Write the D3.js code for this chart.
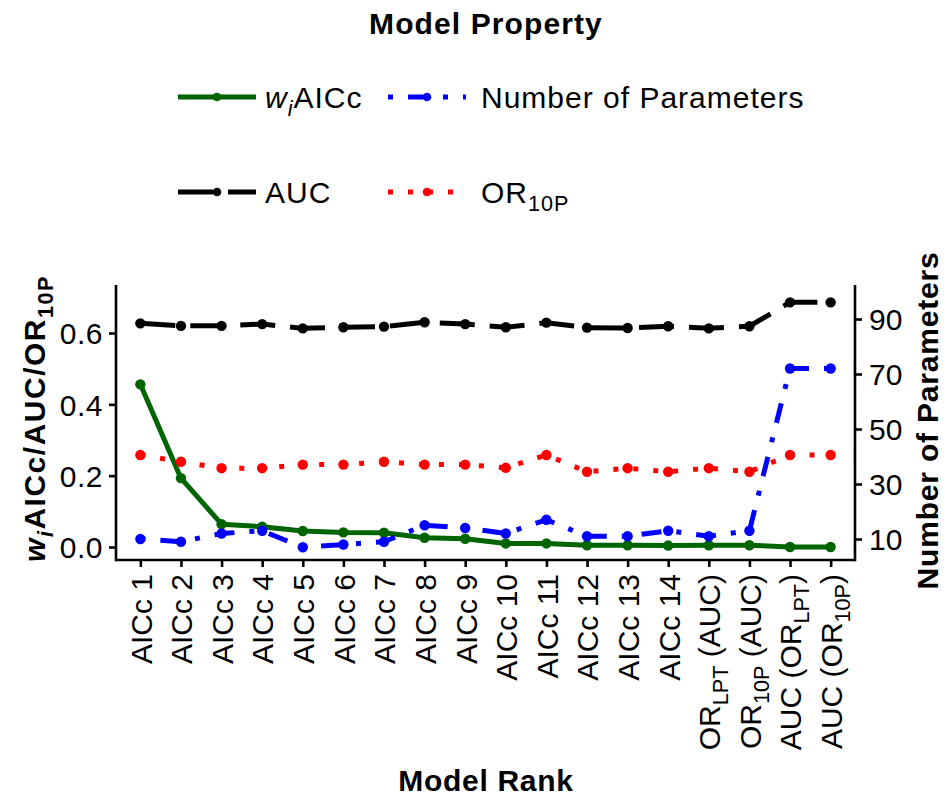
<!DOCTYPE html>
<html><head><meta charset="utf-8">
<script src="https://cdn.jsdelivr.net/npm/d3@7"></script>
<style>
body{margin:0;background:#fff}
svg text{font-family:"Liberation Sans",Arial,Helvetica,sans-serif;fill:#000}
</style>
</head><body>
<svg id="c" width="945" height="797"></svg>
<script>
// ---------- data ----------
const categories = ["AICc 1","AICc 2","AICc 3","AICc 4","AICc 5","AICc 6","AICc 7","AICc 8","AICc 9",
  "AICc 10","AICc 11","AICc 12","AICc 13","AICc 14",
  "OR_{LPT} (AUC)","OR_{10P} (AUC)","AUC (OR_{LPT})","AUC (OR_{10P})"];
const wAICc  = [0.456,0.193,0.064,0.057,0.045,0.041,0.040,0.026,0.023,0.010,0.010,0.005,0.005,0.004,0.005,0.005,0.000,0.000];
const aucVals = [0.627,0.620,0.620,0.625,0.613,0.616,0.618,0.630,0.625,0.616,0.629,0.615,0.614,0.619,0.613,0.619,0.686,0.686];
const or10p  = [0.258,0.239,0.221,0.221,0.231,0.231,0.239,0.231,0.231,0.222,0.258,0.211,0.221,0.211,0.221,0.211,0.258,0.258];
const nParams = [10,9,12,13,7,8,9,15,14,12,17,11,11,13,11,13,72,72];
const leftTicks = [0.0,0.2,0.4,0.6];
const rightTicks = [10,30,50,70,90];

// ---------- layout ----------
const svg = d3.select("#c");
const P = {left:116, right:855, top:285, bottom:560};
const FS = 30;
const x = d3.scalePoint().domain(categories).range([P.left, P.right]).padding(0.6);
const yL = d3.scaleLinear().domain([0,0.6]).range([547,333]);
const yR = d3.scaleLinear().domain([10,90]).range([539,319]);

// helper: write text with _{sub} markup into a text selection
function richText(sel, str, subShift, subScale){
  const parts = str.split(/(_\{[^}]*\})/).filter(s=>s.length);
  let pendingDy = 0;
  parts.forEach(p=>{
    if(p.startsWith("_{")){
      sel.append("tspan").attr("dy", subShift).attr("font-size", subScale).text(p.slice(2,-1));
      pendingDy = -subShift;
    } else {
      const ts = sel.append("tspan").text(p);
      if(pendingDy) ts.attr("dy", pendingDy);
      pendingDy = 0;
    }
  });
}

// ---------- series ----------
const series = [
  {name:"wAICc", vals:wAICc, scale:yL, color:"#006400", dash:null},
  {name:"params", vals:nParams, scale:yR, color:"#0000FF", dash:"5,15,20,15"},
  {name:"auc", vals:aucVals, scale:yL, color:"#000000", dash:"35,15"},
  {name:"or", vals:or10p, scale:yL, color:"#FF0000", dash:"5,15"}
];
const gData = svg.append("g");
series.forEach(s=>{
  const line = d3.line().x((d,i)=>x(categories[i])).y(d=>s.scale(d));
  gData.append("path").datum(s.vals).attr("d", line)
    .attr("fill","none").attr("stroke", s.color).attr("stroke-width",5)
    .attr("stroke-linecap","butt").attr("stroke-linejoin","round")
    .attr("stroke-dasharray", s.dash);
  gData.selectAll(null).data(s.vals).enter().append("circle")
    .attr("cx",(d,i)=>x(categories[i])).attr("cy",d=>s.scale(d)).attr("r",5.2)
    .attr("fill", s.color);
});

// ---------- axes ----------
const axW = 2.6;
svg.append("line").attr("x1",P.left).attr("x2",P.left).attr("y1",P.top).attr("y2",P.bottom+axW/2)
  .attr("stroke","#000").attr("stroke-width",axW);
svg.append("line").attr("x1",P.right).attr("x2",P.right).attr("y1",P.top).attr("y2",P.bottom+axW/2)
  .attr("stroke","#000").attr("stroke-width",axW);
svg.append("line").attr("x1",P.left).attr("x2",P.right).attr("y1",P.bottom).attr("y2",P.bottom)
  .attr("stroke","#000").attr("stroke-width",axW);

const axL = svg.append("g").attr("transform",`translate(${P.left},0)`)
  .call(d3.axisLeft(yL).tickValues(leftTicks).tickFormat(d3.format(".1f")).tickSize(7).tickPadding(6));
const axR = svg.append("g").attr("transform",`translate(${P.right},0)`)
  .call(d3.axisRight(yR).tickValues(rightTicks).tickSize(7).tickPadding(7));
const axB = svg.append("g").attr("transform",`translate(0,${P.bottom})`)
  .call(d3.axisBottom(x).tickSize(7).tickFormat(""));
[axL,axR,axB].forEach(a=>{
  a.select(".domain").remove();
  a.selectAll(".tick line").attr("stroke","#000").attr("stroke-width",axW);
  a.selectAll(".tick text").attr("font-size",FS).attr("font-family",null).attr("fill","#000");
});
axL.selectAll(".tick text").attr("dy","0.36em").attr("letter-spacing",0.5);
axR.selectAll(".tick text").attr("dy","0.36em");
axB.selectAll(".tick text").remove();
axB.selectAll(".tick").each(function(d){
  const t = d3.select(this).append("text")
    .attr("transform","rotate(-90)").attr("x",-14).attr("y",0).attr("dy","0.36em")
    .attr("text-anchor","end").attr("font-size",FS).attr("fill","#000");
  richText(t, d, 8, "0.72em");
});

// ---------- titles ----------
svg.append("text").attr("x",486).attr("y",34).attr("text-anchor","middle")
  .attr("font-size",FS).attr("font-weight","bold").attr("letter-spacing",1.1).text("Model Property");
svg.append("text").attr("x",486).attr("y",791).attr("text-anchor","middle")
  .attr("font-size",FS).attr("font-weight","bold").attr("letter-spacing",0.7).text("Model Rank");
const lt = svg.append("text").attr("transform",`translate(45,${(P.top+P.bottom)/2 - 4}) rotate(-90)`)
  .attr("text-anchor","middle").attr("font-size",FS).attr("font-weight","bold").attr("letter-spacing",1.5);
lt.append("tspan").attr("font-style","italic").text("w");
lt.append("tspan").attr("font-style","italic").attr("font-size","0.72em").attr("dy",8).text("i");
lt.append("tspan").attr("dy",-8).text("AICc/AUC/OR");
lt.append("tspan").attr("font-size","0.72em").attr("dy",8).text("10P");
svg.append("text").attr("transform",`translate(938,${(P.top+P.bottom)/2 - 2}) rotate(-90)`)
  .attr("text-anchor","middle").attr("font-size",FS).attr("font-weight","bold").attr("letter-spacing",0.8)
  .text("Number of Parameters");

// ---------- legend ----------
const legendItems = [
  {s:series[0], label:"wAICc", col:0, row:0},
  {s:series[1], label:"Number of Parameters", col:1, row:0},
  {s:series[2], label:"AUC", col:0, row:1},
  {s:series[3], label:"OR_{10P}", col:1, row:1}
];
const colX = [178, 388], rowY = [97, 192], keyW = 78, labGap = [87, 93];
legendItems.forEach(it=>{
  const kx = colX[it.col], ky = rowY[it.row];
  svg.append("line").attr("x1",kx).attr("x2",kx+keyW).attr("y1",ky).attr("y2",ky)
    .attr("stroke",it.s.color).attr("stroke-width",5).attr("stroke-linecap","butt")
    .attr("stroke-dasharray",it.s.dash);
  svg.append("circle").attr("cx",kx+keyW/2).attr("cy",ky).attr("r",4.3).attr("fill",it.s.color);
  const t = svg.append("text").attr("x",kx+labGap[it.col]).attr("y",ky).attr("dy","0.36em")
    .attr("font-size",FS).attr("letter-spacing",1);
  if(it.label==="wAICc"){
    t.append("tspan").attr("font-style","italic").text("w");
    t.append("tspan").attr("font-style","italic").attr("font-size","0.72em").attr("dy",8).text("i");
    t.append("tspan").attr("dy",-8).text("AICc");
  } else richText(t, it.label, 8, "0.72em");
});
</script>
</body></html>
